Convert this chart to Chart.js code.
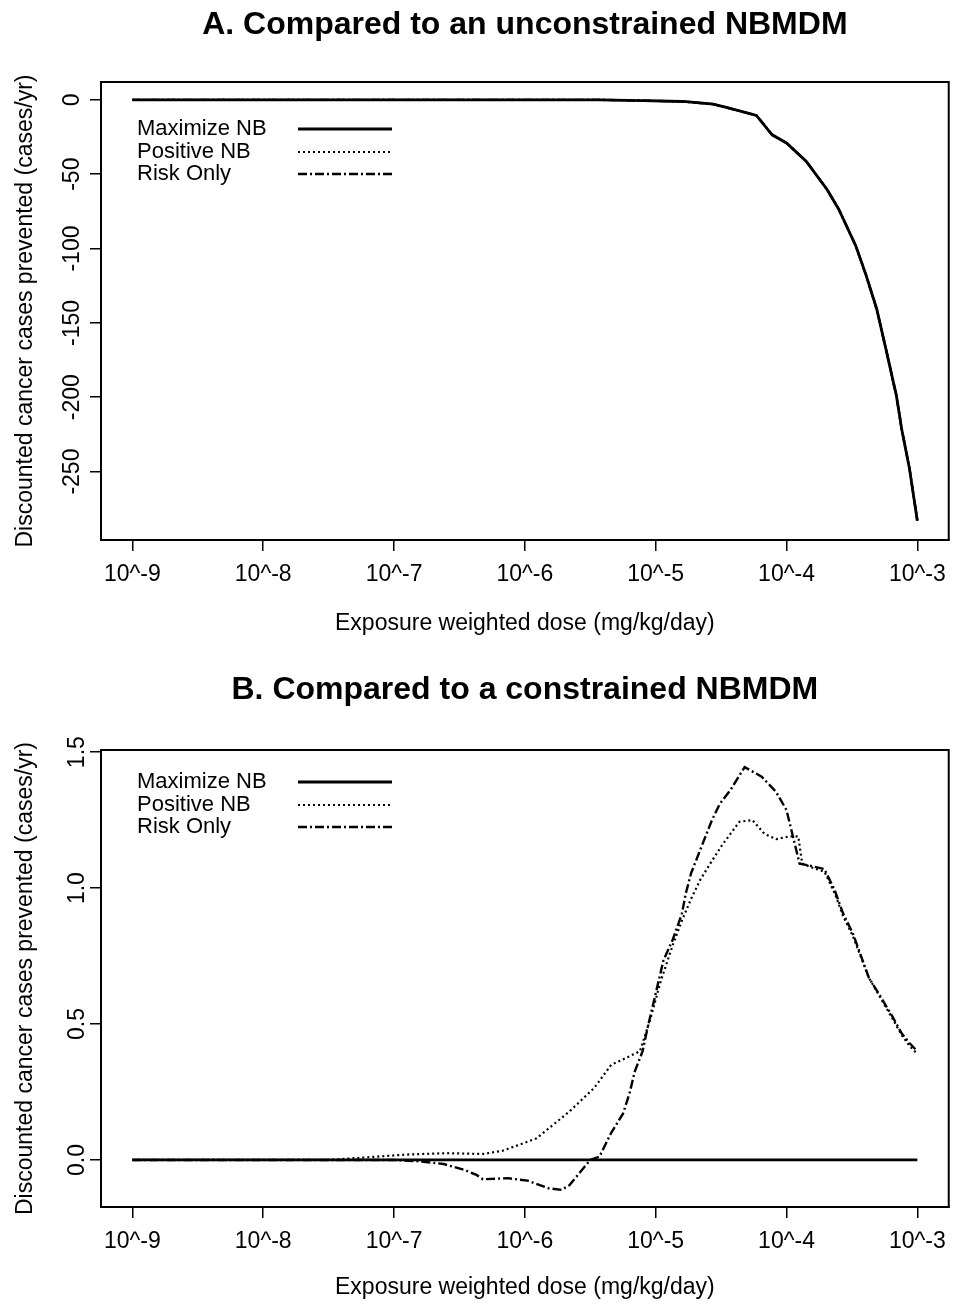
<!DOCTYPE html>
<html>
<head>
<meta charset="utf-8">
<script src="https://cdn.jsdelivr.net/npm/chart.js@4.4.1/dist/chart.umd.min.js"></script>
<style>
  html, body { margin: 0; padding: 0; background: #fff; }
  #wrap { position: relative; width: 956px; height: 1306px; }
  canvas { position: absolute; left: 0; }
</style>
</head>
<body>
<div id="wrap">
  <canvas id="panelA" width="956" height="653" style="top:0"></canvas>
  <canvas id="panelB" width="956" height="653" style="top:653px"></canvas>
</div>
<script>
// Dose axis: positions are log10 of the exposure-weighted dose
const xTickExponents = [-9, -8, -7, -6, -5, -4, -3];
const xTickLabels = ['10^-9', '10^-8', '10^-7', '10^-6', '10^-5', '10^-4', '10^-3'];

const seriesNames = ['Maximize NB', 'Positive NB', 'Risk Only'];

// Panel A: compared to an unconstrained NBMDM (all three policies coincide)
const yTicksA = [0, -50, -100, -150, -200, -250];
const doseExpA = [-9.0, -8.0, -7.0, -6.0, -5.43, -5.1, -4.79, -4.56, -4.46, -4.23, -4.11, -4.0,
                  -3.85, -3.69, -3.6, -3.47, -3.39, -3.31, -3.24, -3.16, -3.12, -3.06, -3.0];
const maximizeA = [0, 0, 0, 0, 0, -0.5, -1.1, -2.9, -5.1, -10.5, -23.5, -29,
                   -41.3, -60.3, -73.7, -98.3, -118.4, -140.8, -167.6, -198.9, -221.2, -248, -283];
const positiveA = [0, 0, 0, 0, 0, -0.5, -1.1, -2.9, -5.1, -10.5, -23.5, -29,
                   -41.3, -60.3, -73.7, -98.3, -118.4, -140.8, -167.6, -198.9, -221.2, -248, -283];
const riskOnlyA = [0, 0, 0, 0, 0, -0.5, -1.1, -2.9, -5.1, -10.5, -23.5, -29,
                   -41.3, -60.3, -73.7, -98.3, -118.4, -140.8, -167.6, -198.9, -221.2, -248, -283];

// Panel B: compared to a constrained NBMDM
const yTicksB = [0, 0.5, 1.0, 1.5];
const yTickLabelsB = ['0.0', '0.5', '1.0', '1.5'];
const doseExpMaxB = [-9.0, -3.0];
const maximizeB = [0, 0];
const doseExpPosB = [-9.0, -7.5, -7.2, -6.9, -6.6, -6.32, -6.17, -5.98, -5.91, -5.66, -5.47, -5.34,
                     -5.25, -5.12, -5.04, -4.96, -4.87, -4.8, -4.73, -4.66, -4.57, -4.49, -4.36,
                     -4.26, -4.17, -4.08, -3.98, -3.91, -3.88, -3.8, -3.71, -3.63, -3.57, -3.49,
                     -3.43, -3.37, -3.28, -3.19, -3.12, -3.06, -3.0];
const positiveB = [0, 0, 0.01, 0.02, 0.025, 0.022, 0.034, 0.067, 0.08, 0.178, 0.265, 0.35,
                   0.37, 0.40, 0.52, 0.66, 0.79, 0.88, 0.96, 1.03, 1.10, 1.16, 1.244,
                   1.25, 1.20, 1.18, 1.19, 1.19, 1.09, 1.075, 1.06, 0.98, 0.90, 0.82,
                   0.745, 0.67, 0.595, 0.52, 0.46, 0.42, 0.39];
const doseExpRiskB = [-9.0, -7.0, -6.8, -6.62, -6.46, -6.37, -6.32, -6.13, -5.98, -5.82, -5.72, -5.66,
                      -5.5, -5.43, -5.34, -5.25, -5.2, -5.16, -5.1, -5.06, -4.94, -4.87, -4.8,
                      -4.77, -4.73, -4.66, -4.57, -4.51, -4.43, -4.32, -4.19, -4.08, -4.0, -3.9,
                      -3.8, -3.71, -3.63, -3.57, -3.49, -3.43, -3.37, -3.28, -3.19, -3.12, -3.06, -3.0];
const riskOnlyB = [0, 0, -0.005, -0.015, -0.037, -0.055, -0.071, -0.067, -0.076, -0.104, -0.11, -0.093,
                   0.0, 0.012, 0.10, 0.17, 0.245, 0.325, 0.40, 0.49, 0.735, 0.81, 0.905,
                   0.98, 1.054, 1.14, 1.25, 1.31, 1.36, 1.445, 1.41, 1.354, 1.287, 1.09,
                   1.08, 1.07, 0.99, 0.91, 0.83, 0.75, 0.67, 0.60, 0.527, 0.466, 0.43, 0.40];

const FONT = '"Liberation Sans", Arial, Helvetica, sans-serif';
const toPoints = (xs, ys) => xs.map((x, i) => ({ x: x, y: ys[i] }));

const lineStyles = [
  { borderDash: [], borderWidth: 2.8 },
  { borderDash: [2, 3], borderWidth: 2.2 },
  { borderDash: [9, 3, 2, 3], borderWidth: 2.4 }
];

function makeDataset(i, xs, ys) {
  return {
    label: seriesNames[i],
    data: toPoints(xs, ys),
    borderColor: '#000',
    borderWidth: lineStyles[i].borderWidth,
    borderDash: lineStyles[i].borderDash,
    borderCapStyle: 'butt',
    pointRadius: 0,
    tension: 0,
    fill: false
  };
}

// Box around the plot region, panel heading and the in-plot key
const panelDecor = {
  id: 'panelDecor',
  afterDatasetsDraw(chart, args, opts) {
    const { ctx, chartArea: a } = chart;
    ctx.save();
    ctx.setLineDash([]);
    ctx.strokeStyle = '#000';
    ctx.lineWidth = 2;
    ctx.strokeRect(a.left, a.top, a.right - a.left, a.bottom - a.top);

    ctx.fillStyle = '#000';
    ctx.font = 'bold 32px ' + FONT;
    ctx.textAlign = 'center';
    ctx.textBaseline = 'middle';
    ctx.fillText(opts.title, (a.left + a.right) / 2, opts.titleY);

    ctx.font = '22px ' + FONT;
    ctx.textAlign = 'left';
    chart.data.datasets.forEach((ds, i) => {
      const y = opts.legendRows[i];
      ctx.fillStyle = '#000';
      ctx.fillText(ds.label, opts.legendTextX, y);
      ctx.beginPath();
      ctx.setLineDash(ds.borderDash || []);
      ctx.lineWidth = ds.borderWidth;
      ctx.strokeStyle = ds.borderColor;
      ctx.moveTo(opts.legendLineX[0], y);
      ctx.lineTo(opts.legendLineX[1], y);
      ctx.stroke();
    });
    ctx.restore();
  }
};

function makeScales(cfg) {
  const tickFont = { family: FONT, size: 23 };
  const titleFont = { family: FONT, size: 23 };
  return {
    x: {
      type: 'linear',
      min: -9.24,
      max: -2.76,
      afterBuildTicks: s => { s.ticks = xTickExponents.map(v => ({ value: v })); },
      afterFit: s => { s.height = cfg.xAxisHeight; },
      ticks: {
        autoSkip: false,
        maxRotation: 0,
        padding: 10,
        color: '#000',
        font: tickFont,
        callback: v => xTickLabels[xTickExponents.indexOf(v)]
      },
      grid: { drawOnChartArea: false, drawTicks: true, tickLength: 11, color: '#000', lineWidth: 1.5 },
      border: { display: true, color: '#000', width: 2 },
      title: {
        display: true,
        text: 'Exposure weighted dose (mg/kg/day)',
        color: '#000',
        font: titleFont,
        padding: { top: 0, bottom: cfg.xTitlePad }
      }
    },
    y: {
      type: 'linear',
      min: cfg.yMin,
      max: cfg.yMax,
      afterBuildTicks: s => { s.ticks = cfg.yTicks.map(v => ({ value: v })); },
      afterFit: s => { s.width = 101; },
      ticks: {
        autoSkip: false,
        minRotation: 90,
        maxRotation: 90,
        crossAlign: 'center',
        padding: cfg.yTickPad,
        color: '#000',
        font: tickFont,
        callback: cfg.yLabel
      },
      grid: { drawOnChartArea: false, drawTicks: true, tickLength: 11, color: '#000', lineWidth: 1.5 },
      border: { display: true, color: '#000', width: 2 },
      title: {
        display: true,
        text: 'Discounted cancer cases prevented (cases/yr)',
        color: '#000',
        font: titleFont,
        padding: { top: 12, bottom: 0 }
      }
    }
  };
}

function makeChart(id, datasets, cfg) {
  return new Chart(document.getElementById(id), {
    type: 'line',
    data: { datasets: datasets },
    options: {
      responsive: false,
      animation: false,
      devicePixelRatio: 1,
      layout: { padding: { left: 0, right: 7, top: cfg.top, bottom: 0 } },
      scales: makeScales(cfg),
      plugins: {
        legend: { display: false },
        tooltip: { enabled: false },
        panelDecor: {
          title: cfg.title,
          titleY: cfg.titleY,
          legendRows: [129, 152, 174],
          legendTextX: 137,
          legendLineX: [298, 392]
        }
      }
    },
    plugins: [panelDecor]
  });
}

makeChart('panelA', [
  makeDataset(0, doseExpA, maximizeA),
  makeDataset(1, doseExpA, positiveA),
  makeDataset(2, doseExpA, riskOnlyA)
], {
  title: 'A. Compared to an unconstrained NBMDM',
  titleY: 25,
  top: 82,
  xAxisHeight: 113,
  xTitlePad: 16,
  yMin: -296,
  yMax: 12,
  yTicks: yTicksA,
  yTickPad: -6,
  yLabel: v => String(v)
});

makeChart('panelB', [
  makeDataset(0, doseExpMaxB, maximizeB),
  makeDataset(1, doseExpPosB, positiveB),
  makeDataset(2, doseExpRiskB, riskOnlyB)
], {
  title: 'B. Compared to a constrained NBMDM',
  titleY: 37,
  top: 97,
  xAxisHeight: 99,
  xTitlePad: 5,
  yMin: -0.173,
  yMax: 1.508,
  yTicks: yTicksB,
  yTickPad: -4,
  yLabel: v => yTickLabelsB[yTicksB.indexOf(v)]
});
</script>
</body>
</html>
